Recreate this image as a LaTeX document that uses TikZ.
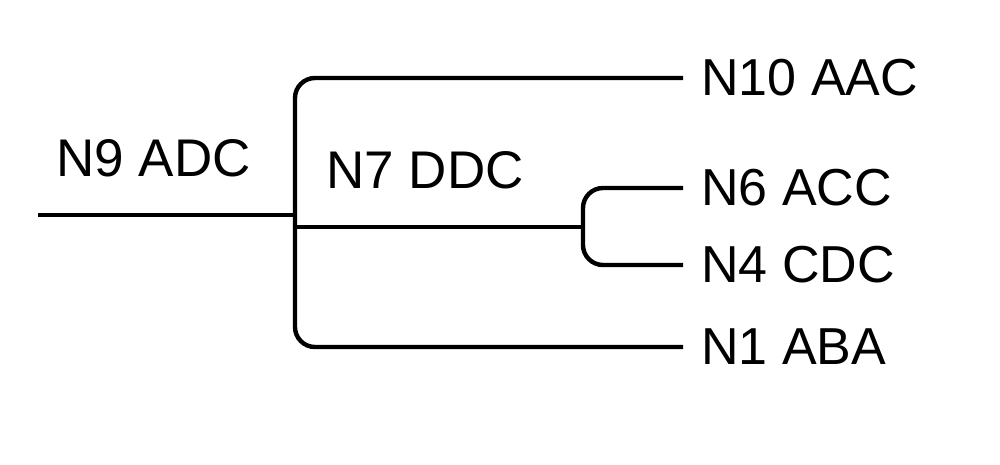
\documentclass[tikz,border=0pt]{standalone}
\usepackage{fontspec}
\setmainfont{Liberation Sans}
\usepackage{tikz}

\tikzset{
  branch/.style={line width=2.2pt, rounded corners=10pt},
  leaf/.style={anchor=west, inner xsep=9pt, inner ysep=0pt, font=\fontsize{26}{30}\selectfont},
  inner/.style={anchor=west, inner sep=0pt, font=\fontsize{26.5}{30}\selectfont}
}

\begin{document}
\begin{tikzpicture}[x=0.5pt, y=-0.5pt]
	\useasboundingbox (0,0) rectangle (1000,465);
	
	% Wurzel und Verzweigungen
	\coordinate (root) at (38,215);
	\coordinate (j9) at (295,215);
	\coordinate (j7) at (583,227);
	
	% Blaetter
	\node[leaf] (n10) at (683,78) {N10 AAC};
	\node[leaf] (n6) at (683,188) {N6 ACC};
	\node[leaf] (n4) at (683,265) {N4 CDC};
	\node[leaf] (n1) at (683,347) {N1 ABA};
	
	% innere Knoten
	\node[inner] (n9) at (56,158) {N9 ADC};
	\node[inner] (n7) at (326,170) {N7 DDC};
	
	% Aeste
	\draw[branch] (root) -- (j9);
	\draw[branch] (n10.west) -| (j9) |- (n1.west);
	\draw[branch] (j9 |- j7) -- (j7);
	\draw[branch] (n6.west) -| (j7) |- (n4.west);
\end{tikzpicture}
\end{document}
